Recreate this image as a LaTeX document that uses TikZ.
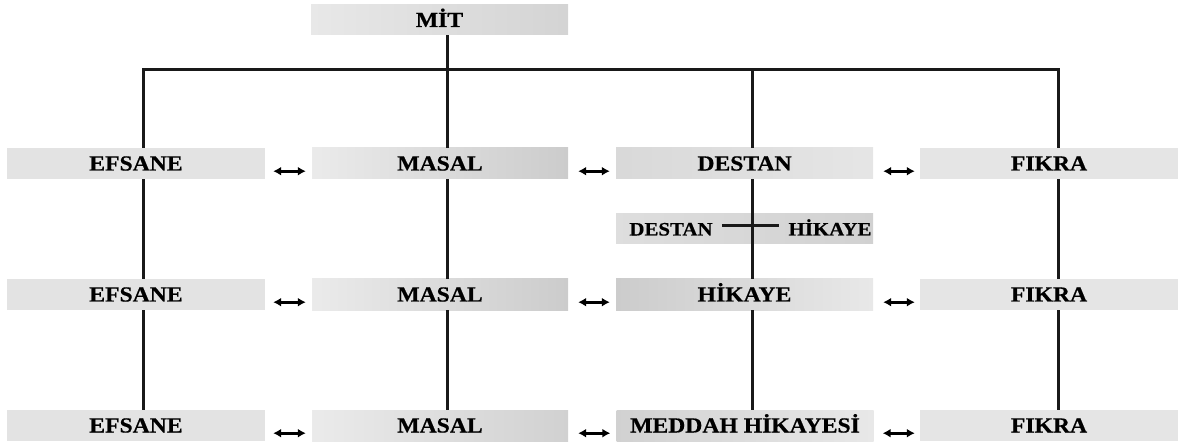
\documentclass[tikz,border=0pt]{standalone}
\usepackage{fontspec}
\setmainfont[FakeStretch=1.1,FakeBold=0.6]{Liberation Serif}
\usetikzlibrary{arrows.meta,calc}
\tikzset{
  box/.style={rectangle, inner sep=0pt, minimum height=31pt, minimum width=257pt,
    text height=14pt, text depth=0pt,
    font=\fontsize{21.5}{21.5}\selectfont\bfseries, text=black},
  flat/.style={fill=#1},
  grad/.style 2 args={left color=#1, right color=#2},
  small/.style={inner sep=0pt, text height=13pt, text depth=0pt,
    font=\fontsize{19}{19}\selectfont\bfseries},
  conn/.style={draw=black!90, line width=3pt},
  bi/.style={line width=2.8pt, {Latex[length=8pt,width=9pt]}-{Latex[length=8pt,width=9pt]}}
}
\begin{document}
\begin{tikzpicture}[x=1pt,y=-1pt]
\useasboundingbox (0,0) rectangle (1180,446);
% boxes
\node[box, grad={black!9}{black!17}, minimum height=30pt] (mit) at (439.5,20) {MİT};

\node[box, flat=black!11, minimum width=258pt] (efs1) at (136,163.5) {EFSANE};
\node[box, grad={black!8}{black!20}, minimum width=256pt] (mas1) at (440,163.5) {MASAL};
\node[box, grad={black!15}{black!10}] (des1) at (744.5,163.5) {DESTAN};
\node[box, flat=black!10, minimum width=258pt] (fik1) at (1049,163.5) {FIKRA};

\node[box, grad={black!13}{black!18}, minimum height=30pt] (dh) at (744.5,229) {};
\node[small] (sd) at (671,229) {DESTAN};
\node[small] (sh) at (830,229) {HİKAYE};

\node[box, flat=black!11, minimum width=258pt] (efs2) at (136,294.5) {EFSANE};
\node[box, grad={black!8}{black!20}, minimum width=256pt] (mas2) at (440,294.5) {MASAL};
\node[box, grad={black!20}{black!9}] (hik2) at (744.5,294.5) {HİKAYE};
\node[box, flat=black!10, minimum width=258pt] (fik2) at (1049,294.5) {FIKRA};

\node[box, flat=black!11, minimum width=258pt] (efs3) at (136,425.5) {EFSANE};
\node[box, grad={black!8}{black!18}, minimum width=256pt] (mas3) at (440,425.5) {MASAL};
\node[box, grad={black!18}{black!9}] (med3) at (745,425.5) {MEDDAH HİKAYESİ};
\node[box, flat=black!10, minimum width=258pt] (fik3) at (1049,425.5) {FIKRA};

% connectors
\coordinate (bar) at (0,70);
\coordinate (c1) at ([xshift=7pt]efs1.north);
\coordinate (c3) at ([xshift=7.5pt]des1.north);
\coordinate (c4) at ([xshift=9pt]fik1.north);
\draw[conn, line join=miter] (c1) -- (c1 |- bar) -- (c4 |- bar) -- (c4);
\draw[conn] (c3 |- bar) -- (c3);
\draw[conn] ([xshift=7.5pt]mit.south) -- ([xshift=7pt]mas1.north);

\draw[conn] ([xshift=7pt]efs1.south) -- ([xshift=7pt]efs2.north);
\draw[conn] ([xshift=7pt]efs2.south) -- ([xshift=7pt]efs3.north);
\draw[conn] ([xshift=7pt]mas1.south) -- ([xshift=7pt]mas2.north);
\draw[conn] ([xshift=7pt]mas2.south) -- ([xshift=7pt]mas3.north);
\draw[conn] ([xshift=7.5pt]des1.south) -- ([xshift=7.5pt]hik2.north);
\draw[conn] ([xshift=7.5pt]hik2.south) -- ([xshift=7pt]med3.north);
\draw[conn] ([xshift=9pt]fik1.south) -- ([xshift=9pt]fik2.north);
\draw[conn] ([xshift=9pt]fik2.south) -- ([xshift=9pt]fik3.north);

\draw[conn] ([xshift=9pt,yshift=3pt]sd.east) -- ([xshift=-9pt,yshift=3pt]sh.west);

% double arrows
\draw[bi] ($(efs1.south east)+(8,-8)$) -- ($(mas1.south west)+(-6,-8)$);
\draw[bi] ($(mas1.south east)+(10,-8)$) -- ($(des1.south west)+(-6,-8)$);
\draw[bi] ($(des1.south east)+(10,-8)$) -- ($(fik1.south west)+(-5,-8)$);

\draw[bi] ($(efs2.south east)+(8,-8)$) -- ($(mas2.south west)+(-6,-8)$);
\draw[bi] ($(mas2.south east)+(10,-8)$) -- ($(hik2.south west)+(-6,-8)$);
\draw[bi] ($(hik2.south east)+(10,-8)$) -- ($(fik2.south west)+(-5,-8)$);

\draw[bi] ($(efs3.south east)+(8,-8)$) -- ($(mas3.south west)+(-6,-8)$);
\draw[bi] ($(mas3.south east)+(10,-8)$) -- ($(med3.south west)+(-6,-8)$);
\draw[bi] ($(med3.south east)+(9,-8)$) -- ($(fik3.south west)+(-5,-8)$);
\end{tikzpicture}
\end{document}
